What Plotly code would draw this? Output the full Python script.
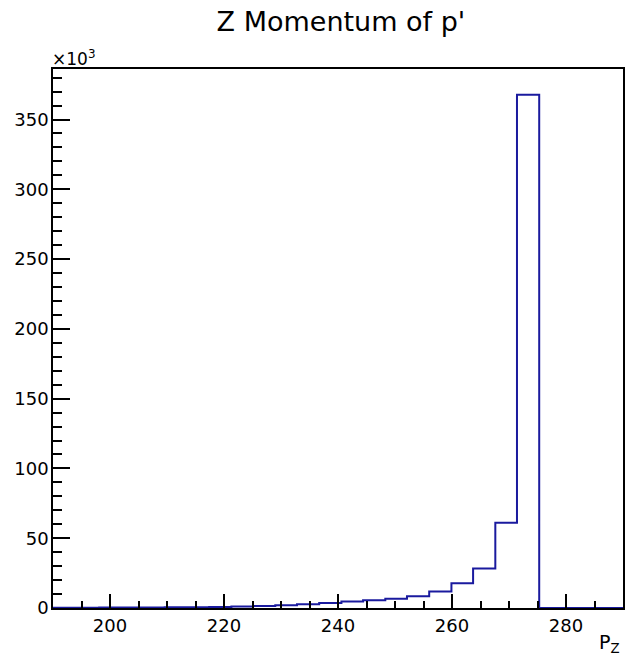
import plotly.graph_objects as go

# Histogram of Z momentum of p' (bin edges in P_z units, counts per bin)
bin_edges = [186.5, 190.4, 194.2, 198.1, 201.9, 205.8, 209.6, 213.5, 217.4,
             221.3, 225.1, 229.0, 232.8, 236.7, 240.6, 244.4, 248.3, 252.1,
             256.0, 259.9, 263.7, 267.6, 271.4, 275.3]
counts = [150, 200, 250, 300, 350, 420, 500, 600, 800,
          1100, 1500, 2000, 2700, 3500, 4600, 5600, 6600, 8500,
          11800, 17800, 28300, 61100, 367800]

x_ticks = [200, 220, 240, 260, 280]
y_ticks = [0, 50000, 100000, 150000, 200000, 250000, 300000, 350000]
y_tick_labels = ["0", "50", "100", "150", "200", "250", "300", "350"]

title_text = "Z Momentum of p'"
x_title = "P<sub>Z</sub>"
y_scale_label = "×10<sup>3</sup>"

x_range = [190, 290]
y_max = max(counts) * 1.05

# step line: each bin drawn as a horizontal segment, dropping to zero after last bin
step_x = bin_edges + [x_range[1]]
step_y = counts + [0, 0]

fig = go.Figure()
fig.add_trace(go.Scatter(
    x=step_x, y=step_y, mode="lines",
    line=dict(shape="hv", color="#1a1a9e", width=2),
    hoverinfo="skip", showlegend=False, cliponaxis=True,
))

font_family = "DejaVu Sans, Liberation Sans, Arial, sans-serif"

fig.update_layout(
    width=629, height=660,
    margin=dict(l=53, r=4, t=69, b=52),
    paper_bgcolor="white", plot_bgcolor="white",
    font=dict(family=font_family, color="black", size=18),
    title=dict(text=title_text, x=0.542, xanchor="center", y=0.967, yanchor="middle",
               font=dict(size=27, family=font_family, color="black")),
    xaxis=dict(
        range=x_range, showgrid=False, zeroline=False,
        showline=True, mirror=True, linecolor="black", linewidth=1.5,
        tickmode="array", tickvals=x_ticks,
        ticks="inside", ticklen=14, tickwidth=1.5, tickcolor="black",
        minor=dict(dtick=5, tick0=0, ticks="inside", ticklen=7, tickwidth=1.5,
                   tickcolor="black", showgrid=False),
        tickfont=dict(size=18, family=font_family, color="black"), ticklabelstandoff=1,
    ),
    yaxis=dict(
        range=[0, y_max], showgrid=False, zeroline=False,
        showline=True, mirror=True, linecolor="black", linewidth=1.5,
        tickmode="array", tickvals=y_ticks, ticktext=y_tick_labels,
        ticks="inside", ticklen=17, tickwidth=1.5, tickcolor="black",
        minor=dict(dtick=10000, tick0=0, ticks="inside", ticklen=9, tickwidth=1.5,
                   tickcolor="black", showgrid=False),
        tickfont=dict(size=18, family=font_family, color="black"), ticklabelstandoff=-1,
    ),
    annotations=[
        dict(text=y_scale_label, xref="paper", yref="paper", x=0, y=1,
             xanchor="left", yanchor="bottom", showarrow=False,
             font=dict(size=17, family=font_family, color="black"), yshift=-2, xshift=-3),
        dict(text=x_title, xref="paper", yref="paper", x=1, y=0,
             xanchor="right", yanchor="top", showarrow=False,
             font=dict(size=19, family=font_family, color="black"), yshift=-21, xshift=-1),
    ],
)

fig.write_html(
    "out.html",
    config={"displayModeBar": False},
    post_script="document.body.style.margin='0';document.body.style.overflow='hidden';",
)
